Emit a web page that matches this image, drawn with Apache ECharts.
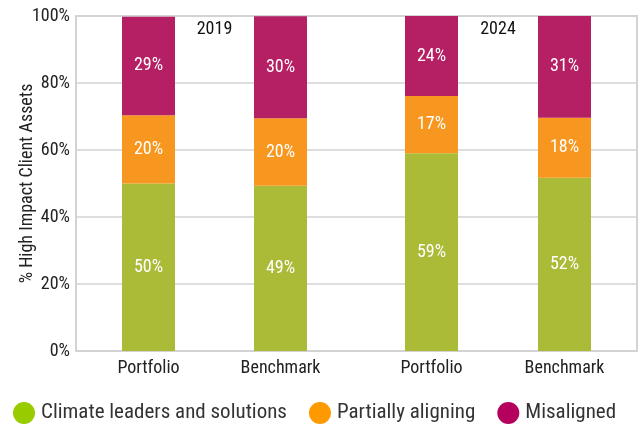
<!DOCTYPE html>
<html>
<head>
<meta charset="utf-8">
<script src="https://cdn.jsdelivr.net/npm/echarts@6/dist/echarts.min.js"></script>
<style>
  html, body { margin: 0; padding: 0; background: #fff; }
  #chart { width: 643px; height: 427px; }
</style>
</head>
<body>
<div id="chart"></div>
<script>
  // data (percent of high impact client assets)
  const years = ['2019', '2024'];
  const categories = ['Portfolio', 'Benchmark'];
  const climate = [50.0, 49.3, 59.0, 51.7];
  const partial = [20.4, 20.2, 17.1, 17.9];
  const misaligned = [29.4, 30.4, 23.9, 30.8];
  const yTicks = [0, 20, 40, 60, 80, 100];

  const FONT = '"Roboto Condensed", "Liberation Sans Narrow", "DejaVu Sans Condensed", Roboto, sans-serif';

  const seriesDefs = [
    { name: 'Climate leaders and solutions', values: climate, color: '#abbb38', legendColor: '#99cc00' },
    { name: 'Partially aligning', values: partial, color: '#f7971f', legendColor: '#ff9900' },
    { name: 'Misaligned', values: misaligned, color: '#b51f63', legendColor: '#b5005e' }
  ];

  const chart = echarts.init(document.getElementById('chart'));

  // grid 0 is the frame with the y axis, grids 1 and 2 hold the two year groups
  const grids = [
    { left: 76, right: 6, top: 16, bottom: 76, show: true, borderColor: '#d3d3d3', borderWidth: 2 },
    { left: 82.5, width: 264, top: 16, bottom: 76 },
    { left: 365, width: 266, top: 16, bottom: 76 }
  ];

  const xAxes = [{ type: 'value', gridIndex: 0, show: false }];
  const yAxes = [{
    type: 'value', gridIndex: 0, min: 0, max: 100, interval: 20,
    name: '% High Impact Client Assets', nameLocation: 'middle', nameGap: 40,
    nameMoveOverlap: false,
    nameTextStyle: { fontFamily: FONT, fontSize: 18, color: '#222' },
    axisLine: { show: false }, axisTick: { show: false },
    axisLabel: { fontFamily: FONT, fontSize: 18, color: '#222', margin: 6,
      formatter: function (v) { return yTicks.indexOf(v) >= 0 ? v + '%' : ''; } },
    splitLine: { lineStyle: { color: '#d3d3d3', width: 1.5 } }
  }];
  const series = [];

  years.forEach(function (yr, g) {
    const gi = g + 1;
    xAxes.push({
      type: 'category', gridIndex: gi, data: categories,
      axisLine: { show: false }, axisTick: { show: false },
      axisLabel: { fontFamily: FONT, fontSize: 18, color: '#222', margin: 8 }
    });
    xAxes.push({
      type: 'category', gridIndex: gi, position: 'top', data: [yr],
      axisLine: { show: false }, axisTick: { show: false },
      axisLabel: { inside: true, fontFamily: FONT, fontSize: 18, color: '#111', margin: 4 }
    });
    yAxes.push({ type: 'value', gridIndex: gi, min: 0, max: 100, show: false });
    seriesDefs.forEach(function (s) {
      series.push({
        name: s.name, type: 'bar', stack: 'y' + yr,
        xAxisIndex: 1 + g * 2, yAxisIndex: gi,
        barWidth: 53,
        itemStyle: { color: s.color },
        label: {
          show: true, position: 'inside', color: '#fff',
          fontFamily: FONT, fontSize: 18,
          formatter: function (p) { return Math.round(p.value) + '%'; }
        },
        data: s.values.slice(g * 2, g * 2 + 2)
      });
    });
  });

  const option = {
    animation: false,
    grid: grids,
    xAxis: xAxes,
    yAxis: yAxes,
    legend: {
      left: 13, top: 402, padding: 0,
      icon: 'circle', itemWidth: 22, itemHeight: 22, itemGap: 22,
      textStyle: { fontFamily: FONT, fontSize: 21, color: '#333', padding: [0, 0, 0, 1] },
      data: seriesDefs.map(function (s) {
        return { name: s.name, itemStyle: { color: s.legendColor } };
      })
    },
    series: series
  };
  chart.setOption(option);
</script>
</body>
</html>
